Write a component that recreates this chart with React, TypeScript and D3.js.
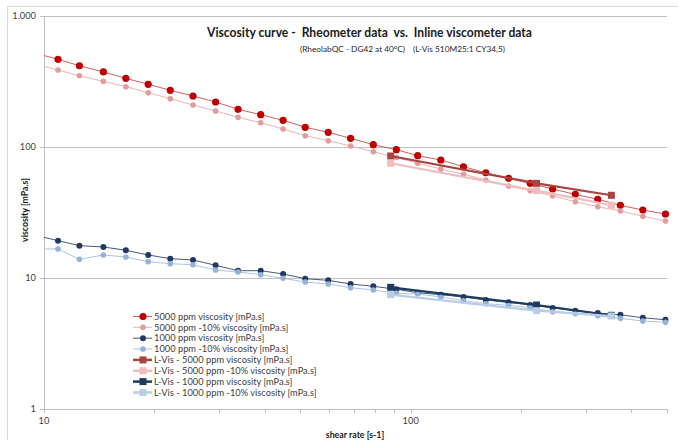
import React from "react";
import * as d3 from "d3";

// ---- data ----
const shearRate = [9.48, 10.92, 12.49, 14.52, 16.72, 19.24, 22.1, 25.49, 29.38, 33.82, 38.99, 44.88, 51.57, 59.58, 68.56, 79.09, 91.39, 104.5, 120.8, 139.3, 160.3, 184.9, 211.8, 243.8, 281.2, 323.7, 373.1, 429.6, 495.3];
const visc5000 = [520, 467, 417, 374, 334.5, 301, 271, 245, 220.6, 194, 176.4, 159.9, 141.4, 129.5, 116.5, 104.1, 95.4, 85.8, 79.6, 70.7, 63.6, 57.7, 52.8, 47.8, 43.5, 39.9, 35.9, 33.0, 30.8];
const visc5000m10 = [430, 387, 350, 317, 288.6, 259.8, 233.7, 209.3, 188.3, 168.5, 153.3, 137.2, 122, 111.7, 101.8, 92.1, 83.1, 75.1, 67.9, 61.9, 56.0, 50.4, 46.4, 42.3, 38.2, 35.0, 32.5, 29.6, 27.2];
const visc1000 = [21.2, 19.27, 17.65, 17.25, 16.28, 14.99, 14.05, 13.73, 12.5, 11.37, 11.37, 10.73, 9.88, 9.6, 9.0, 8.64, 8.2, 7.72, 7.46, 7.16, 6.79, 6.52, 6.22, 5.9, 5.63, 5.4, 5.24, 4.97, 4.8];
const visc1000m10 = [16.7, 16.65, 13.89, 14.99, 14.46, 13.32, 12.86, 12.63, 11.51, 11.11, 10.6, 9.95, 9.32, 9.0, 8.43, 8.1, 7.64, 7.55, 7.16, 6.71, 6.36, 6.19, 5.93, 5.53, 5.34, 5.16, 4.92, 4.69, 4.59];

const lvisShear = [88.2, 220.4, 352.6];
const lvis5000 = [85.4, 52.8, 42.8];
const lvis5000m10 = [75.1, 46.4, 35.9];
const lvis1000 = [8.49, 6.22, 5.19];
const lvis1000m10 = [7.46, 5.63, 5.13];

const seriesNames = [
  "5000 ppm viscosity [mPa.s]",
  "5000 ppm -10% viscosity [mPa.s]",
  "1000 ppm viscosity [mPa.s]",
  "1000 ppm -10% viscosity [mPa.s]",
  "L-Vis - 5000 ppm viscosity [mPa.s]",
  "L-Vis - 5000 ppm -10% viscosity [mPa.s]",
  "L-Vis - 1000 ppm viscosity [mPa.s]",
  "L-Vis - 1000 ppm -10% viscosity [mPa.s]",
];

const yTicks = [1, 10, 100, 1000];
const yTickLabels = ["1", "10", "100", "1.000"];
const xMajorTicks = [10, 100];
const xMajorLabels = ["10", "100"];
const xMinorTicks = [20, 30, 40, 50, 60, 70, 80, 90, 200, 300, 400, 500];

const title = "Viscosity curve -  Rheometer data  vs.  Inline viscometer data";
const subtitle1 = "(RheolabQC - DG42 at 40°C)";
const subtitle2 = "(L-Vis 510M25:1 CY34,5)";

type Series = {
  name: string;
  xs: number[];
  ys: number[];
  marker: "circle" | "square";
  fill: string;
  stroke: string;
  lineWidth: number;
  size: number;
};

const series: Series[] = [
  { name: seriesNames[0], xs: shearRate, ys: visc5000, marker: "circle", fill: "#C00000", stroke: "#D06060", lineWidth: 1, size: 3.6 },
  { name: seriesNames[1], xs: shearRate, ys: visc5000m10, marker: "circle", fill: "#E29C9C", stroke: "#EBB4B4", lineWidth: 1, size: 2.8 },
  { name: seriesNames[2], xs: shearRate, ys: visc1000, marker: "circle", fill: "#1F3864", stroke: "#4A5878", lineWidth: 1, size: 3 },
  { name: seriesNames[3], xs: shearRate, ys: visc1000m10, marker: "circle", fill: "#95B3D7", stroke: "#AFC4DF", lineWidth: 1, size: 2.8 },
  { name: seriesNames[4], xs: lvisShear, ys: lvis5000, marker: "square", fill: "#A94442", stroke: "#A94442", lineWidth: 2.2, size: 7 },
  { name: seriesNames[5], xs: lvisShear, ys: lvis5000m10, marker: "square", fill: "#F0BDBD", stroke: "#F0BDBD", lineWidth: 2.2, size: 7 },
  { name: seriesNames[6], xs: lvisShear, ys: lvis1000, marker: "square", fill: "#1F3A60", stroke: "#1F3A60", lineWidth: 2.2, size: 7 },
  { name: seriesNames[7], xs: lvisShear, ys: lvis1000m10, marker: "square", fill: "#B9CDE5", stroke: "#B9CDE5", lineWidth: 2.2, size: 7 },
];

const W = 678;
const H = 440;
const plot = { left: 44, right: 667, top: 16, bottom: 409 };
const FONT = "Lato, 'Open Sans', 'DejaVu Sans', sans-serif";
const TEXT = "#404040";
const GRID = "#BFBFBF";

function Marker({ s, cx, cy }: { s: Series; cx: number; cy: number }) {
  if (s.marker === "circle") return <circle cx={cx} cy={cy} r={s.size} fill={s.fill} />;
  return <rect x={cx - s.size / 2} y={cy - s.size / 2} width={s.size} height={s.size} fill={s.fill} />;
}

export default function App() {
  const x = d3.scaleLog().domain([10, 500]).range([plot.left, plot.right]);
  const y = d3.scaleLog().domain([1, 1000]).range([plot.bottom, plot.top]);
  const lineGen = d3
    .line<[number, number]>()
    .x((d) => x(d[0]))
    .y((d) => y(d[1]));

  const legendX = 133;
  const legendY0 = 316.5;
  const legendStep = 10.85;

  return (
    <svg width={W} height={H} style={{ position: "absolute", left: 0, top: 0, background: "#fff" }} fontFamily={FONT}>
      <defs>
        <clipPath id="plotclip">
          <rect x={plot.left} y={plot.top - 5} width={plot.right - plot.left + 6} height={plot.bottom - plot.top + 5} />
        </clipPath>
      </defs>
      <rect x={0} y={0} width={W} height={H} fill="#fff" />
      {/* chart border */}
      <rect x={7.5} y={6.5} width={W + 20} height={H + 20} fill="none" stroke="#D9D9D9" strokeWidth={1} />

      {/* gridlines */}
      {yTicks.slice(1).map((t) => (
        <line key={t} x1={plot.left} x2={plot.right} y1={Math.round(y(t)) + 0.5} y2={Math.round(y(t)) + 0.5} stroke={GRID} strokeWidth={1} />
      ))}
      {/* axes */}
      <line x1={plot.left + 0.5} x2={plot.left + 0.5} y1={plot.top} y2={plot.bottom + 4} stroke={GRID} />
      <line x1={plot.left - 4} x2={plot.right} y1={plot.bottom + 0.5} y2={plot.bottom + 0.5} stroke={GRID} />
      {yTicks.map((t) => (
        <line key={"yt" + t} x1={plot.left - 4} x2={plot.left} y1={Math.round(y(t)) + 0.5} y2={Math.round(y(t)) + 0.5} stroke={GRID} />
      ))}
      {[...xMajorTicks, ...xMinorTicks].map((t) => (
        <line key={"xt" + t} x1={Math.round(x(t)) + 0.5} x2={Math.round(x(t)) + 0.5} y1={plot.bottom} y2={plot.bottom + 4} stroke={GRID} />
      ))}

      {/* tick labels */}
      {yTicks.map((t, i) => (
        <text key={"yl" + t} x={36} y={y(t)} dy="0.35em" textAnchor="end" fontSize={9.3} fill={TEXT}>
          {yTickLabels[i]}
        </text>
      ))}
      {xMajorTicks.map((t, i) => (
        <text key={"xl" + t} x={x(t)} y={424} textAnchor="middle" fontSize={9.3} fill={TEXT}>
          {xMajorLabels[i]}
        </text>
      ))}

      {/* axis titles */}
      <text x={355} y={438} textAnchor="middle" fontSize={8.8} fontWeight="bold" fill="#1a1a1a">
        shear rate [s-1]
      </text>
      <text transform="translate(28,210) rotate(-90)" textAnchor="middle" fontSize={8.8} fontWeight="bold" fill="#1a1a1a">
        viscosity [mPa.s]
      </text>

      {/* title */}
      <text x={207} y={37} fontSize={12.5} fontWeight="bold" fill="#1a1a1a" textLength={325} lengthAdjust="spacingAndGlyphs" style={{ whiteSpace: "pre" }}>
        {title}
      </text>
      <text x={300} y={51.5} fontSize={8} fill="#262626" textLength={105} lengthAdjust="spacingAndGlyphs">
        {subtitle1}
      </text>
      <text x={413} y={51.5} fontSize={8} fill="#262626" textLength={92} lengthAdjust="spacingAndGlyphs">
        {subtitle2}
      </text>

      {/* series */}
      <g clipPath="url(#plotclip)">
        {series.map((s, si) => {
          const pts = s.xs.map((v, i) => [v, s.ys[i]] as [number, number]);
          return (
            <g key={si}>
              <path d={lineGen(pts) || ""} fill="none" stroke={s.stroke} strokeWidth={s.lineWidth} />
              {pts.map((p, i) => (
                <Marker key={i} s={s} cx={x(p[0])} cy={y(p[1])} />
              ))}
            </g>
          );
        })}
      </g>

      {/* legend */}
      {series.map((s, i) => {
        const ly = legendY0 + i * legendStep;
        return (
          <g key={"lg" + i}>
            <line x1={legendX} x2={legendX + 19} y1={ly} y2={ly} stroke={s.stroke} strokeWidth={s.lineWidth === 1 ? 1 : 2.5} />
            <Marker s={s} cx={legendX + 10} cy={ly} />
            <text x={154} y={ly} dy="0.35em" fontSize={9.3} fill={TEXT}>
              {s.name}
            </text>
          </g>
        );
      })}
    </svg>
  );
}
